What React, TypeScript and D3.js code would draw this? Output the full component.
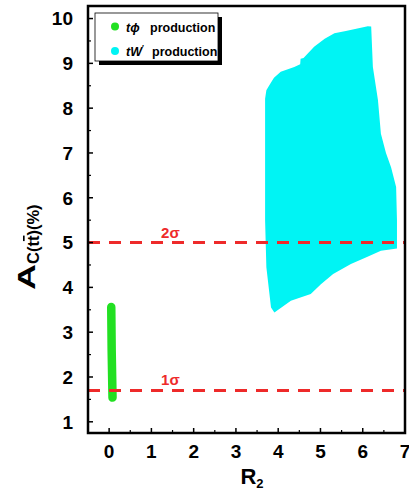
import * as d3 from "d3";

const xTicks = [0, 1, 2, 3, 4, 5, 6, 7];
const yTicks = [1, 2, 3, 4, 5, 6, 7, 8, 9, 10];
const xMinor = [-0.5, 0.5, 1.5, 2.5, 3.5, 4.5, 5.5, 6.5];
const yMinor = [1.5, 2.5, 3.5, 4.5, 5.5, 6.5, 7.5, 8.5, 9.5];

// tW' production allowed region (outline)
const twRegion: [number, number][] = [
  [3.69, 8.21], [3.72, 8.4], [3.79, 8.51], [3.9, 8.68], [4.06, 8.81], [4.38, 8.92],
  [4.52, 8.98], [4.53, 9.1], [4.6, 9.12], [4.85, 9.37], [5.1, 9.55],
  [5.33, 9.67], [5.6, 9.72], [6.12, 9.83], [6.2, 9.82], [6.24, 8.92],
  [6.36, 8.18], [6.43, 7.43], [6.55, 7.0], [6.67, 6.68], [6.79, 6.24],
  [6.81, 5.5], [6.81, 4.87], [6.43, 4.82], [6.1, 4.68], [5.72, 4.52],
  [5.3, 4.3], [5.01, 4.07], [4.77, 3.85], [4.3, 3.7], [3.91, 3.44],
  [3.83, 3.55], [3.72, 4.45], [3.69, 5.5],
];

// t phi production band
const tphiBand: [number, number][] = [
  [0.05, 3.56],
  [0.06, 2.6],
  [0.08, 1.54],
];

const sigmaLines = [
  { label: "2σ", value: 5.0 },
  { label: "1σ", value: 1.7 },
];

const W = 409;
const H = 494;

export default function App() {
  const x = d3.scaleLinear().domain([-0.5, 7]).range([88, 405]);
  const y = d3.scaleLinear().domain([0.75, 10.28]).range([433, 6]);
  const line = d3
    .line<[number, number]>()
    .x((d) => x(d[0]))
    .y((d) => y(d[1]));
  const font = "'Liberation Sans', Arial, sans-serif";
  const red = "#ee2a2a";

  return (
    <div style={{ position: "fixed", left: 0, top: 0 }}>
      <svg width={W} height={H} style={{ display: "block" }} fontFamily={font}>
        <rect width={W} height={H} fill="#fff" />

        <path d={line(twRegion) + "Z"} fill="#00f4f4" />
        <path
          d={line(tphiBand) || ""}
          fill="none"
          stroke="#22e022"
          strokeWidth={8.5}
          strokeLinecap="round"
        />

        {sigmaLines.map((s) => (
          <g key={s.label}>
            <line
              x1={x(-0.5)}
              x2={x(7)}
              y1={y(s.value)}
              y2={y(s.value)}
              stroke={red}
              strokeWidth={3}
              strokeDasharray="12 9"
            />
            <text
              x={x(1.45)}
              y={y(s.value) - 5}
              textAnchor="middle"
              fill={red}
              fontSize={15}
              fontWeight="bold"
            >
              {s.label}
            </text>
          </g>
        ))}

        {/* ticks */}
        {yTicks.map((t) => (
          <g key={"y" + t}>
            <line x1={x(-0.5)} x2={x(-0.5) + 5} y1={y(t)} y2={y(t)} stroke="#000" strokeWidth={1.5} />
            <text
              x={73}
              y={y(t)}
              dy="0.36em"
              textAnchor="end"
              fontSize={19}
              fontWeight="bold"
            >
              {t}
            </text>
          </g>
        ))}
        {yMinor.map((t) => (
          <line key={"ym" + t} x1={x(-0.5)} x2={x(-0.5) + 3} y1={y(t)} y2={y(t)} stroke="#000" strokeWidth={1.2} />
        ))}
        {xTicks.map((t) => (
          <g key={"x" + t}>
            <line x1={x(t)} x2={x(t)} y1={y(0.75)} y2={y(0.75) - 5} stroke="#000" strokeWidth={1.5} />
            <text x={x(t)} y={458} textAnchor="middle" fontSize={19} fontWeight="bold">
              {t}
            </text>
          </g>
        ))}
        {xMinor.map((t) => (
          <line key={"xm" + t} x1={x(t)} x2={x(t)} y1={y(0.75)} y2={y(0.75) - 3} stroke="#000" strokeWidth={1.2} />
        ))}

        <rect
          x={x(-0.5)}
          y={y(10.28)}
          width={x(7) - x(-0.5)}
          height={y(0.75) - y(10.28)}
          fill="none"
          stroke="#000"
          strokeWidth={2.5}
        />

        {/* legend */}
        <rect x={99} y={17} width={123} height={48} fill="#000" />
        <rect x={95} y={13} width={123} height={48} fill="#fff" stroke="#000" strokeWidth={0.8} />
        <circle cx={115} cy={26.5} r={4} fill="#22e022" />
        <text x={126} y={31.5} fontSize={12.5} fontWeight="bold">
          <tspan fontStyle="italic">tϕ</tspan>
          <tspan x={150}>production</tspan>
        </text>
        <circle cx={115} cy={51} r={4} fill="#00f4f4" />
        <text x={126} y={55.5} fontSize={12.5} fontWeight="bold">
          <tspan fontStyle="italic">tW</tspan>
          <tspan fontSize={8} dy={-6}>′</tspan>
          <tspan x={152} dy={6}>production</tspan>
        </text>

        {/* axis titles */}
        <text x={252} y={484} textAnchor="middle" fontSize={22} fontWeight="bold">
          R<tspan fontSize={13} dy={4}>2</tspan>
        </text>
        <text
          transform="translate(35,290) rotate(-90) scale(1.5,1)"
          fontWeight="bold"
          fontSize={24}
        >
          A
        </text>
        <text transform="translate(39,264) rotate(-90)" fontWeight="bold" fontSize={16.5}>
          C(t
          <tspan textDecoration="overline">t</tspan>
          )(%)
        </text>
      </svg>
    </div>
  );
}
